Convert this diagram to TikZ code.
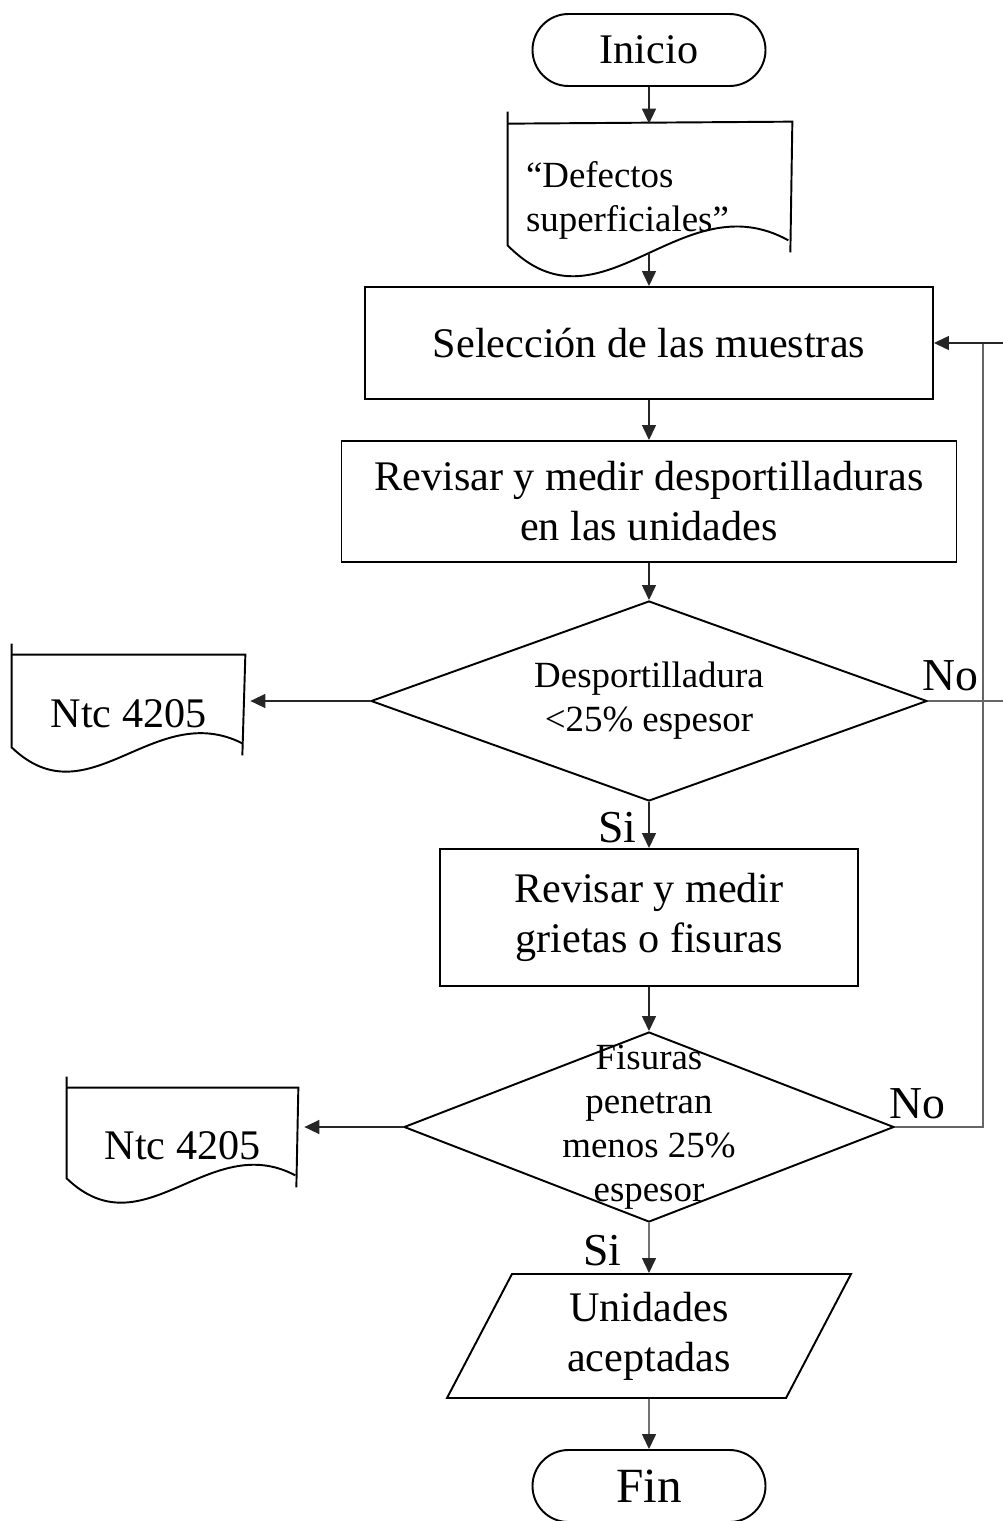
\documentclass[tikz,border=0pt]{standalone}
\usepackage{fontspec}
\setmainfont{Liberation Serif}
\usetikzlibrary{shapes.geometric, arrows.meta}
\tikzstyle{startstop} = [rectangle, rounded corners=0.72cm, minimum width=4.66cm, minimum height=1.44cm, text centered, draw=black, line width=1.1pt, font=\fontsize{24}{28}\selectfont]
\tikzstyle{process} = [rectangle, align=center, draw=black, line width=1.1pt, font=\fontsize{24}{28.5}\selectfont]
\tikzstyle{decision} = [diamond, align=center, draw=black, line width=1.1pt, font=\fontsize{21}{25}\selectfont]
\tikzstyle{document} = [rectangle, align=center, font=\fontsize{24}{28}\selectfont]
\tikzstyle{io} = [trapezium, trapezium left angle=57, trapezium right angle=123, trapezium stretches body, minimum width=8.08cm, minimum height=2.48cm, align=center, draw=black, line width=1.1pt, font=\fontsize{24}{28.5}\selectfont]
\tikzstyle{docline} = [line width=1.1pt]
\tikzstyle{edge} = [line width=0.8pt, black!85, -{Triangle[length=0.3cm, width=0.28cm]}]
\tikzstyle{line} = [line width=0.8pt, black!60]
\tikzstyle{answer} = [text=black, inner sep=2pt, font=\fontsize{26}{30}\selectfont]
\begin{document}
\begin{tikzpicture}

\useasboundingbox (0,0) rectangle (20.06,-30.42);

\node (inicio) [startstop] at (12.98,-1.0) {Inicio};
\node (defectos) [document, node distance=3cm, below of=inicio, text width=4.92cm, minimum width=5.64cm, minimum height=3.04cm, inner xsep=0.36cm, align=left, font=\fontsize{21}{25}\selectfont] {“Defectos\\superficiales”};
\node (seleccion) [process, node distance=2.86cm, below of=defectos, minimum width=11.36cm, minimum height=2.24cm] {Selección de las muestras};
\node (desport) [process, node distance=3.17cm, below of=seleccion, minimum width=12.3cm, minimum height=2.42cm] {Revisar y medir desportilladuras\\en las unidades};
\node (dec1) [decision, node distance=3.99cm, below of=desport, aspect=2.78, minimum width=11.12cm, minimum height=4cm] {Desportilladura\\<25\% espesor};
\node (ntc1) [document, node distance=10.41cm, left of=dec1, yshift=-0.25cm, minimum width=4.66cm, minimum height=2.34cm] {Ntc 4205};
\node (grietas) [process, node distance=4.33cm, below of=dec1, minimum width=8.36cm, minimum height=2.74cm] {Revisar y medir\\grietas o fisuras};
\node (dec2) [decision, node distance=4.19cm, below of=grietas, aspect=2.58, minimum width=9.8cm, minimum height=3.8cm, inner sep=-0.6cm] {Fisuras\\penetran\\menos 25\%\\espesor};
\node (ntc2) [document, node distance=9.33cm, left of=dec2, yshift=-0.37cm, minimum width=4.62cm, minimum height=2.3cm] {Ntc 4205};
\node (aceptadas) [io, node distance=4.18cm, below of=dec2] {Unidades\\aceptadas};
\node (fin) [startstop, node distance=3cm, below of=aceptadas, font=\fontsize{28}{32}\selectfont] {Fin};

% hojas de documento
\draw [docline] ([yshift=0.24cm]defectos.north west) -- ([yshift=0.62cm]defectos.south west) .. controls ([xshift=1.86cm, yshift=-1.28cm]defectos.south west) and ([xshift=3.46cm, yshift=1.92cm]defectos.south west) .. ([xshift=-0.04cm, yshift=0.72cm]defectos.south east);
\draw [docline] (defectos.north west) -- ([xshift=0.04cm, yshift=0.04cm]defectos.north east) -- ([yshift=0.48cm]defectos.south east);
\draw [docline] ([yshift=0.22cm]ntc1.north west) -- ([yshift=0.5cm]ntc1.south west) .. controls ([xshift=1.54cm, yshift=-0.98cm]ntc1.south west) and ([xshift=2.84cm, yshift=1.48cm]ntc1.south west) .. ([xshift=-0.06cm, yshift=0.58cm]ntc1.south east);
\draw [docline] (ntc1.north west) -- (ntc1.north east) -- ([xshift=-0.06cm, yshift=0.34cm]ntc1.south east);
\draw [docline] ([yshift=0.22cm]ntc2.north west) -- ([yshift=0.5cm]ntc2.south west) .. controls ([xshift=1.54cm, yshift=-0.98cm]ntc2.south west) and ([xshift=2.84cm, yshift=1.48cm]ntc2.south west) .. ([xshift=-0.06cm, yshift=0.56cm]ntc2.south east);
\draw [docline] (ntc2.north west) -- (ntc2.north east) -- ([xshift=-0.04cm, yshift=0.32cm]ntc2.south east);

\coordinate (defout) at ([yshift=0.46cm]defectos.south);
\coordinate (loopin) at ([xshift=1.42cm]seleccion.east);
\coordinate (loopout) at ([xshift=1.52cm]dec1.east);
\coordinate (loopdown) at ([xshift=1.76cm]dec2.east);

\draw [edge] (inicio) -- (defectos);
\draw [edge] (defout) -- (seleccion);
\draw [edge] (seleccion) -- (desport);
\draw [edge] (desport) -- (dec1);
\draw [edge, shorten >=0.1cm] (dec1.west) -- (dec1.west -| ntc1.east);
\draw [line] (dec1.east) -- node[answer, above, pos=0.3, yshift=0.11cm]{No} (loopout);
\draw [edge] (dec1) -- node[answer, anchor=east, pos=0.55, xshift=-0.17cm]{Si} (grietas);
\draw [edge] (grietas) -- (dec2);
\draw [edge, shorten >=0.12cm] (dec2.west) -- (dec2.west -| ntc2.east);
\draw [line] (dec2.east) -- node[answer, above, pos=0.26, yshift=0.07cm]{No} (loopdown) -- (loopdown |- seleccion.east);
\draw [edge] (loopin) -- (seleccion.east);
\draw [edge] (dec2) -- node[answer, anchor=east, pos=0.55, xshift=-0.47cm]{Si} (aceptadas);
\draw [edge] (aceptadas) -- (fin);

\end{tikzpicture}
\end{document}
